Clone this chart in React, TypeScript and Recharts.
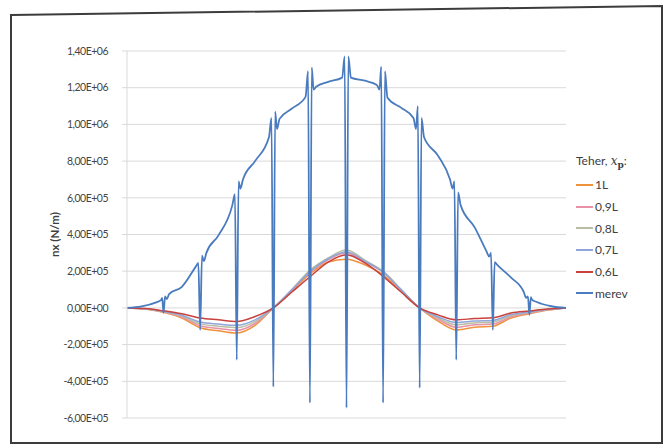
import React from 'react';
import { LineChart, Line, XAxis, YAxis, CartesianGrid } from 'recharts';

// span positions (x = 0..12, supports at integers)
const spanX = [0, 0.5, 1, 1.5, 2, 2.5, 3, 3.5, 4, 4.5, 5, 5.5, 6, 6.5, 7, 7.5, 8, 8.5, 9, 9.5, 10, 10.5, 11, 11.5, 12];

// values in kN/m (x1000 = N/m)
const load1L = [0, -6, -24, -55, -108, -125, -137, -95, 0, 90, 185, 250, 265, 235, 180, 90, 0, -72, -120, -105, -100, -55, -32, -12, 0];
const load09L = [0, -5, -22, -50, -97, -112, -122, -85, 0, 95, 195, 262, 300, 250, 195, 95, 0, -62, -105, -92, -88, -48, -28, -10, 0];
const load08L = [0, -5, -20, -45, -87, -100, -108, -75, 0, 100, 205, 272, 315, 260, 200, 100, 0, -55, -92, -82, -78, -42, -25, -9, 0];
const load07L = [0, -4, -19, -40, -77, -88, -95, -65, 0, 97, 198, 268, 305, 255, 195, 97, 0, -48, -80, -72, -68, -36, -22, -8, 0];
const load06L = [0, -3, -16, -32, -55, -65, -74, -47, 0, 85, 170, 250, 290, 245, 172, 85, 0, -38, -65, -58, -54, -28, -17, -6, 0];

// rigid (merev) series
const merevX = [
  0, 0.4, 0.8, 0.93, 0.96, 1.0, 1.04, 1.09, 1.15, 1.5, 1.88, 1.95, 2.0, 2.05, 2.1, 2.17,
  2.5, 2.88, 2.95, 3.0, 3.05, 3.1, 3.17, 3.5, 3.88, 3.95, 4.0, 4.05, 4.1, 4.17,
  4.5, 4.88, 4.95, 5.0, 5.05, 5.1, 5.17, 5.5, 5.88, 5.95, 6.0, 6.05, 6.12,
  6.5, 6.83, 6.9, 6.95, 7.0, 7.05, 7.12, 7.5, 7.83, 7.9, 7.95, 8.0, 8.05, 8.12,
  8.5, 8.83, 8.9, 8.95, 9.0, 9.05, 9.12, 9.5, 9.83, 9.9, 9.95, 10.0, 10.05, 10.12,
  10.5, 10.85, 10.91, 10.96, 11.0, 11.04, 11.07, 11.2, 11.6, 12,
];
const merevY = [
  0, 8, 30, 42, 55, -27, 62, 48, 75, 115, 225, 245, -120, 285, 255, 300,
  395, 560, 620, -283, 690, 650, 700, 800, 930, 1035, -430, 1070, 975, 1030,
  1085, 1150, 1290, -518, 1310, 1190, 1205, 1232, 1255, 1370, -545, 1370, 1255,
  1238, 1215, 1190, 1315, -518, 1290, 1145, 1090, 1035, 975, 1100, -436, 1035, 930,
  830, 700, 650, 690, -283, 630, 560, 440, 307, 280, 300, -120, 250, 235,
  165, 85, 55, 62, -38, 58, 45, 32, 9, 0,
];

const seriesNames = ['1L', '0,9L', '0,8L', '0,7L', '0,6L', 'merev'];
const seriesKeys = ['s1', 's2', 's3', 's4', 's5', 'merev'];
const seriesColors = ['#F0923C', '#E991A6', '#B9BDA2', '#90A5D9', '#C8413A', '#4A7BBF'];
const yTicks = [-600000, -400000, -200000, 0, 200000, 400000, 600000, 800000, 1000000, 1200000, 1400000];

const lowerData = spanX.map((x, i) => ({
  x,
  s1: load1L[i] * 1000,
  s2: load09L[i] * 1000,
  s3: load08L[i] * 1000,
  s4: load07L[i] * 1000,
  s5: load06L[i] * 1000,
}));
const merevData = merevX.map((x, i) => ({ x, merev: merevY[i] * 1000 }));

const fmt = (v: number) => {
  if (v === 0) return '0,00E+00';
  const sign = v < 0 ? '-' : '';
  const a = Math.abs(v);
  const e = Math.floor(Math.log10(a) + 1e-9);
  const m = a / Math.pow(10, e);
  return `${sign}${m.toFixed(2).replace('.', ',')}E+${String(e).padStart(2, '0')}`;
};

const font = 'Lato, "Open Sans", sans-serif';

export default function App() {
  return (
    <div style={{ position: 'absolute', left: 0, top: 0, width: 669, height: 444, background: '#fff', fontFamily: font }}>
      <svg width={669} height={444} style={{ position: 'absolute', left: 0, top: 0 }}>
        <polygon points="11,15 662,6 662,443 11,443" fill="none" stroke="#3c3c3c" strokeWidth={2} />
      </svg>
      <div style={{ position: 'absolute', left: 0, top: 0 }}>
        <LineChart width={669} height={444} margin={{ top: 51, right: 103, bottom: 26, left: 67 }}>
          <CartesianGrid vertical={false} stroke="#D9D9D9" strokeWidth={1} />
          <XAxis type="number" dataKey="x" domain={[0, 12]} hide height={0} allowDataOverflow />
          <YAxis
            type="number"
            width={60}
            domain={[-600000, 1400000]}
            ticks={yTicks}
            tickFormatter={fmt}
            tickSize={5}
            tickMargin={14}
            axisLine={{ stroke: '#D9D9D9' }}
            tickLine={{ stroke: '#D9D9D9' }}
            tick={{ fontSize: 10.5, fill: '#454545', fontFamily: font, letterSpacing: -0.5 }}
            interval={0}
            label={() => (
              <text
                x={54}
                y={234.5}
                transform="rotate(-90 54 234.5)"
                textAnchor="middle"
                dominantBaseline="central"
                fontSize={11.5}
                fontWeight="bold"
                fill="#404040"
                fontFamily={font}
              >
                nx (N/m)
              </text>
            )}
          />
          {seriesKeys.slice(0, 5).map((k, i) => (
            <Line
              key={k}
              data={lowerData}
              dataKey={k}
              type="monotone"
              stroke={seriesColors[i]}
              strokeWidth={1.5}
              dot={false}
              isAnimationActive={false}
            />
          ))}
          <Line
            data={merevData}
            dataKey="merev"
            type="monotone"
            stroke={seriesColors[5]}
            strokeWidth={1.8}
            dot={false}
            isAnimationActive={false}
          />
        </LineChart>
      </div>
      <div style={{ position: 'absolute', left: 576, top: 152, fontSize: 12, color: '#404040', fontFamily: font }}>
        <div style={{ height: 22, lineHeight: '18px', whiteSpace: 'nowrap' }}>
          Teher,{' '}
          <span style={{ fontFamily: '"DejaVu Serif", serif', fontStyle: 'italic', fontSize: 12 }}>x</span>
          <span style={{ fontFamily: '"DejaVu Serif", serif', fontWeight: 'bold', fontSize: 9, position: 'relative', top: 3 }}>p</span>
          <span>:</span>
        </div>
        {seriesNames.map((n, i) => (
          <div key={n} style={{ height: 21.7, display: 'flex', alignItems: 'center', whiteSpace: 'nowrap' }}>
            <span style={{ display: 'inline-block', width: 17, height: 2, background: seriesColors[i], marginRight: 2 }} />
            <span>{n}</span>
          </div>
        ))}
      </div>
    </div>
  );
}
